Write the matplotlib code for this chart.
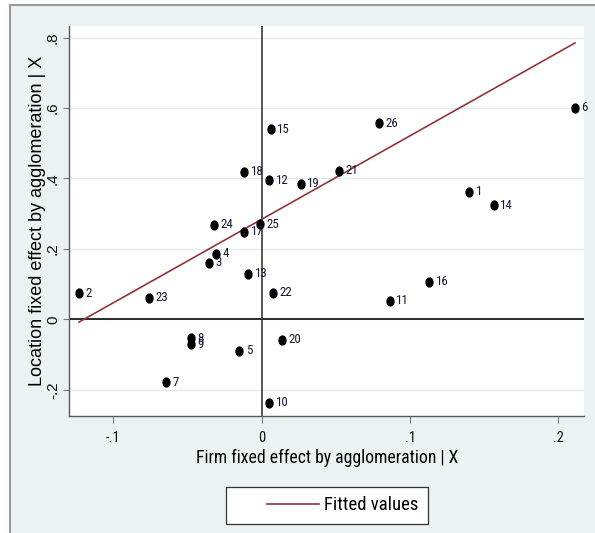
import os
import numpy as np
import matplotlib
matplotlib.use("Agg")
import matplotlib.pyplot as plt
from matplotlib import font_manager as fm
from matplotlib.patches import Rectangle
from matplotlib.path import Path
from matplotlib.transforms import Affine2D
from matplotlib.lines import Line2D
from matplotlib.legend_handler import HandlerLine2D

# ---- data ----
labels = [str(i) for i in range(1, 27)]
firm_fe = [0.1398, -0.1232, -0.0353, -0.0308, -0.0151, 0.2112, -0.0645, -0.0477,
           -0.0479, 0.0051, 0.0865, 0.0051, -0.0090, 0.1564, 0.0063, 0.1130,
           -0.0117, -0.0117, 0.0263, 0.0135, 0.0523, 0.0076, -0.0758, -0.0324,
           -0.0011, 0.0791]
loc_fe = [0.3625, 0.0739, 0.1608, 0.1864, -0.0892, 0.6011, -0.1790, -0.0540,
          -0.0702, -0.2369, 0.0528, 0.3957, 0.1287, 0.3239, 0.5405, 0.1068,
          0.2489, 0.4193, 0.3844, -0.0588, 0.4222, 0.0756, 0.0614, 0.2679,
          0.2707, 0.5568]
# fitted-values line as shown (ends at the data range)
fit_x = [-0.1232, 0.2112]
fit_y = [-0.008, 0.785]
xticks = [-0.1, 0.0, 0.1, 0.2]
xtick_labels = ["-.1", "0", ".1", ".2"]
yticks = [-0.2, 0.0, 0.2, 0.4, 0.6, 0.8]
ytick_labels = ["-.2", "0", ".2", ".4", ".6", ".8"]
xlabel = "Firm fixed effect by agglomeration | X"
ylabel = "Location fixed effect by agglomeration | X"
legend_label = "Fitted values"


def pick_narrow():
    tests = [
        lambda f, b: f.name == "Liberation Sans Narrow",
        lambda f, b: f.name == "Arial Narrow",
        lambda f, b: b.startswith("notosans-extracondensed."),
        lambda f, b: f.name == "Roboto Condensed",
        lambda f, b: b.startswith("notosans-condensed."),
        lambda f, b: b.startswith("opensans-condensed"),
        lambda f, b: b.startswith("notosans-semicondensed."),
    ]
    for t in tests:
        for f in fm.fontManager.ttflist:
            b = os.path.basename(f.fname).lower()
            if t(f, b) and f.style == "normal" and f.weight in (400, "normal", "regular"):
                return fm.FontProperties(fname=f.fname)
    return fm.FontProperties(family="Liberation Sans")


NARROW_FP = pick_narrow()
REG = ["Liberation Sans", "DejaVu Sans"]

W, H = 595, 533
fig = plt.figure(figsize=(W / 100, H / 100), dpi=100, facecolor="white")
renderer = fig.canvas.get_renderer()


def fit_size(text, base, target_w, target_cap, wh=0.5):
    """Blend of the size matching the width and the one matching cap height."""
    fp = NARROW_FP.copy()
    fp.set_size(base)
    w, _, _ = renderer.get_text_width_height_descent(text, fp, ismath=False)
    s_w = base * target_w / w
    s_h = target_cap / 0.711 * 72 / 100
    return s_w ** (1 - wh) * s_h ** wh


def nfp(size):
    fp = NARROW_FP.copy()
    fp.set_size(size)
    return fp


xl_size = fit_size(xlabel, 13, 246, 13.3)
leg_size = fit_size(legend_label, 13.5, 90, 14.0)
pt_size = fit_size("21", 9.5, 11.7, 9.3, wh=0.8)
tk_size = fit_size(".1", 11, 8.5, 11.0, wh=0.8)

# outer Stata-like graph region
bg = Rectangle((10 / W, -0.2), 2, 1.2 - 4.5 / H, transform=fig.transFigure,
               facecolor="#eaf2f3", edgecolor="#9a9a9a", lw=1.5, zorder=-1)
fig.patches.append(bg)

ax = fig.add_axes([69 / W, 1 - 416 / H, (584 - 69) / W, (416 - 26) / H])
ax.set_facecolor("white")
ax.set_xlim(-0.12991, 0.21729)
ax.set_ylim(-0.2747, 0.8332)

for s in ["top", "right"]:
    ax.spines[s].set_visible(False)
for s in ["left", "bottom"]:
    ax.spines[s].set_color("#5a5a5a")
    ax.spines[s].set_linewidth(1.0)

ax.set_xticks(xticks)
ax.set_xticklabels(xtick_labels, fontproperties=nfp(tk_size))
ax.set_yticks(yticks)
ax.set_yticklabels(ytick_labels, fontfamily=REG, fontsize=11, rotation=90)
for lab in ax.get_yticklabels():
    lab.set_va("center")
ax.tick_params(axis="x", length=5, width=0.8, color="#777777", pad=6, labelcolor="#111111")
ax.tick_params(axis="y", length=4.5, width=0.8, color="#777777", pad=2, labelcolor="#111111")

# gridlines
ax.yaxis.grid(True, color="#e2eaec", lw=1.0, zorder=0)
ax.set_axisbelow(True)

# zero lines
ax.axhline(0, color="#1a1a1a", lw=1.3, zorder=1)
ax.axvline(0, color="#3a3a3a", lw=1.2, zorder=1)

# fitted line
ax.plot(fit_x, fit_y, color="#90353b", lw=1.2, zorder=2, label=legend_label)

# markers (slightly tall dots)
ell = Path.unit_circle().transformed(Affine2D().scale(0.78, 1.0))
ax.plot(firm_fe, loc_fe, linestyle="none", marker=ell, markersize=6.4,
        color="black", zorder=3)
for xi, yi, lb in zip(firm_fe, loc_fe, labels):
    ax.annotate(lb, (xi, yi), xytext=(4.6, 0), textcoords="offset points",
                va="center", ha="left", fontproperties=nfp(pt_size),
                color="#151530", zorder=4)

ax.set_xlabel(xlabel, fontproperties=nfp(xl_size))
ax.xaxis.set_label_coords(0.5013, (416 - 463) / 390)
ax.xaxis.label.set_va("baseline")
ax.set_ylabel(ylabel, fontfamily=REG, fontsize=13)
ax.yaxis.set_label_coords((42.5 - 69) / 515, 0.501)
ax.yaxis.label.set_va("baseline")


class RightLine(HandlerLine2D):
    def __init__(self, frac, **kw):
        super().__init__(**kw)
        self.frac = frac

    def create_artists(self, legend, orig_handle, xdescent, ydescent, width,
                       height, fontsize, trans):
        x0 = -xdescent + width * (1 - self.frac)
        x1 = -xdescent + width
        yy = height / 2 - ydescent
        ln = Line2D([x0, x1], [yy, yy], color=orig_handle.get_color(),
                    lw=orig_handle.get_linewidth())
        ln.set_transform(trans)
        return [ln]


fs_px = leg_size * 100 / 72
handles, labs = ax.get_legend_handles_labels()
leg = fig.legend(handles, labs, loc="center",
                 bbox_to_anchor=(327 / W, 1 - 505.2 / H),
                 prop=nfp(leg_size),
                 frameon=True, fancybox=False, shadow=False,
                 borderpad=0.5, handlelength=83 / fs_px, handletextpad=5.5 / fs_px,
                 handler_map={handles[0]: RightLine(52 / 83)})
leg.get_frame().set_edgecolor("#333333")
leg.get_frame().set_linewidth(0.9)
leg.get_frame().set_facecolor("white")
leg.get_frame().set_alpha(1)

fig.savefig("out.png", dpi=100, facecolor="white")
